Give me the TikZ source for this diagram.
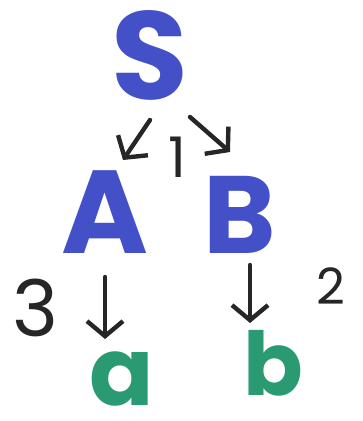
\documentclass[tikz,border=0pt]{standalone}
\usepackage{fontspec}
\setmainfont{Poppins}
\usetikzlibrary{arrows.meta,calc}
\definecolor{symblue}{RGB}{68,80,200}
\definecolor{symgreen}{RGB}{42,154,114}
\tikzset{
	sym/.style={inner sep=0pt, font=\bfseries\fontsize{#1}{#1}\selectfont},
	rule/.style={line width=4.4pt, color=black!85, line cap=round, line join=round,
		-{Straight Barb[length=15pt, width=36pt, line width=4.4pt]}},
	weight/.style={inner sep=0pt, color=black!85, font=\fontsize{#1}{#1}\selectfont}
}
\begin{document}
\begin{tikzpicture}[x=1pt, y=1pt]
			\useasboundingbox (0,0) rectangle (363,421);
			\node[sym=125, symblue] (S) at (150, 366) {S};
			\node[sym=118, symblue] (A) at (105, 209) {A};
			\node[sym=110, symblue] (B) at (240, 206) {B};
			\node[sym=95, symgreen] (a) at (122, 42) {a};
			\node[sym=88, symgreen] (b) at (273, 58) {b};
			\node[weight=56] (w1) at (177, 264) {1};
			\node[weight=78] (w3) at (35, 113) {3};
			\node[weight=50] (w2) at (331, 135) {2};
			\draw[rule] ($(S)+(0,-65)$) -- ($(A)+(18,52)$);
			\draw[rule] ($(S)+(40,-62)$) -- ($(B)+(-10,63)$);
			\draw[rule] ($(A)+(0,-65)$) -- ($(a)+(-17,40)$);
			\draw[rule] ($(B)+(10,-50)$) -- ($(b)+(-23,40)$);
		\end{tikzpicture}
\end{document}
